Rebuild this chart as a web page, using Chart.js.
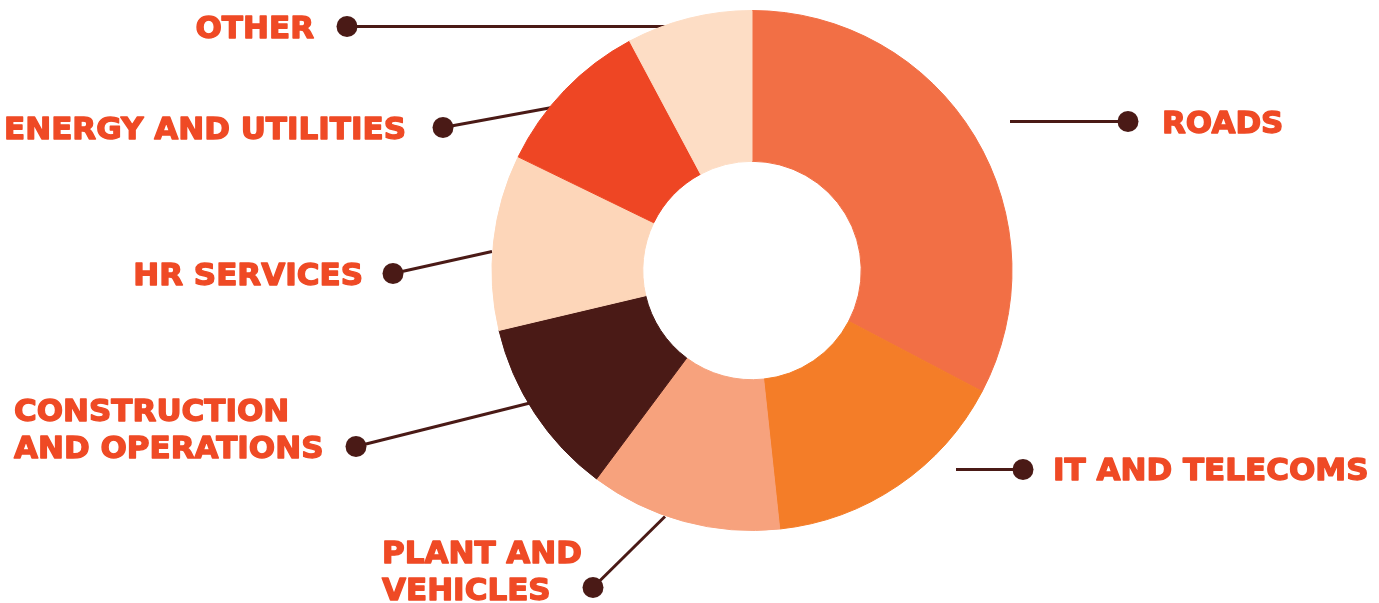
<!DOCTYPE html>
<html>
<head>
<meta charset="utf-8">
<script src="https://cdn.jsdelivr.net/npm/chart.js@4/dist/chart.umd.min.js"></script>
<style>
  html, body { margin: 0; padding: 0; background: #ffffff; }
  #wrap { position: relative; width: 1379px; height: 603px; }
</style>
</head>
<body>
<div id="wrap"><canvas id="c" width="1379" height="603"></canvas></div>
<script>
// ---- data ----
const categories = ["ROADS", "IT AND TELECOMS", "PLANT AND VEHICLES", "CONSTRUCTION AND OPERATIONS", "HR SERVICES", "ENERGY AND UTILITIES", "OTHER"];
const labelLines = [["ROADS"], ["IT AND TELECOMS"], ["PLANT AND", "VEHICLES"], ["CONSTRUCTION", "AND OPERATIONS"], ["HR SERVICES"], ["ENERGY AND UTILITIES"], ["OTHER"]];
const shares = [32.7, 15.6, 11.9, 11.1, 10.9, 10.0, 7.8];
const sliceColors = ["#F26F45", "#F47D28", "#F7A27D", "#4A1A16", "#FDD6B9", "#EE4624", "#FDDDC5"];

// ---- annotation layout (offsets from doughnut centre) ----
// start: leader line inner end, dot: dot centre, text: [x, firstBaseline], align
const callouts = [
  { start: [258, -149], dot: [376, -149], text: [410, -138], align: "left" },
  { start: [204, 199], dot: [271, 199], text: [301, 209], align: "left" },
  { start: [-87, 246], dot: [-159, 317], text: [-370, 292], align: "left" },
  { start: [-212, 130], dot: [-396, 176], text: [-738, 150], align: "left" },
  { start: [-260, -19], dot: [-359, 3], text: [-389, 14], align: "right" },
  { start: [-200, -163], dot: [-309, -143], text: [-346, -132], align: "right" },
  { start: [-84, -244], dot: [-405, -244], text: [-438, -233], align: "right" }
];
const lineColor = "#4A1A16";
const textColor = "#EF4A25";
const fontSpec = "bold 31px 'DejaVu Sans'";
const lineGap = 37;

const calloutPlugin = {
  id: "callouts",
  beforeDatasetsDraw(chart) {
    const arc = chart.getDatasetMeta(0).data[0];
    if (!arc) return;
    const cx = arc.x, cy = arc.y;
    const ctx = chart.ctx;
    ctx.save();
    ctx.strokeStyle = lineColor;
    ctx.lineWidth = 3;
    callouts.forEach(c => {
      ctx.beginPath();
      ctx.moveTo(cx + c.start[0], cy + c.start[1]);
      ctx.lineTo(cx + c.dot[0], cy + c.dot[1]);
      ctx.stroke();
    });
    ctx.restore();
  },
  afterDatasetsDraw(chart) {
    const arc = chart.getDatasetMeta(0).data[0];
    if (!arc) return;
    const cx = arc.x, cy = arc.y;
    const ctx = chart.ctx;
    ctx.save();
    callouts.forEach((c, i) => {
      ctx.fillStyle = lineColor;
      ctx.beginPath();
      ctx.arc(cx + c.dot[0], cy + c.dot[1], 10.5, 0, Math.PI * 2);
      ctx.fill();
      ctx.fillStyle = textColor;
      ctx.strokeStyle = textColor;
      ctx.lineWidth = 1.4;
      ctx.lineJoin = "round";
      ctx.font = fontSpec;
      ctx.textAlign = c.align;
      ctx.textBaseline = "alphabetic";
      labelLines[i].forEach((t, k) => {
        const x = cx + c.text[0], y = cy + c.text[1] + k * lineGap;
        ctx.fillText(t, x, y);
        ctx.strokeText(t, x, y);
      });
    });
    ctx.restore();
  }
};

new Chart(document.getElementById("c"), {
  type: "doughnut",
  data: {
    labels: categories,
    datasets: [{
      data: shares,
      backgroundColor: sliceColors,
      borderColor: sliceColors,
      borderWidth: 1,
      hoverOffset: 0
    }]
  },
  options: {
    responsive: false,
    animation: false,
    cutout: "42%",
    layout: { padding: { left: 125, right: 0, top: 10, bottom: 72 } },
    plugins: {
      legend: { display: false },
      tooltip: { enabled: false }
    }
  },
  plugins: [calloutPlugin]
});
</script>
</body>
</html>
